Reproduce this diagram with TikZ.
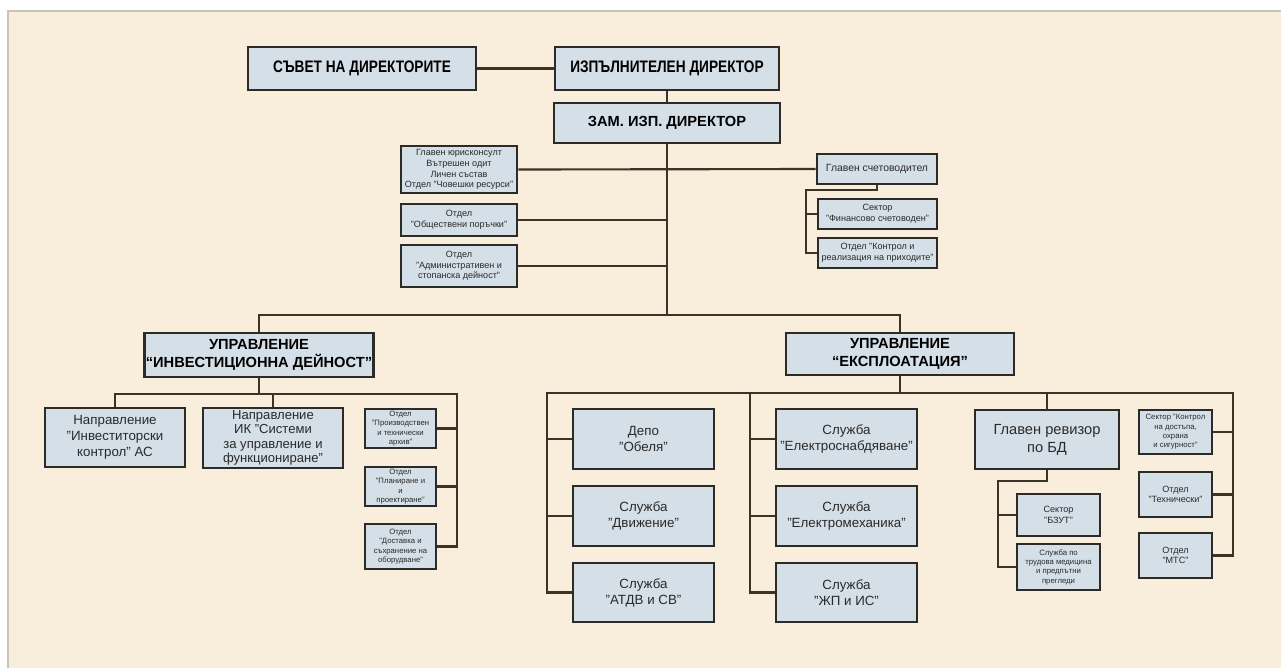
\documentclass[tikz,border=0pt]{standalone}
\usepackage{fontspec}
\setmainfont{Liberation Sans}
\newfontfamily\narrowfont[FakeStretch=0.82]{Liberation Sans}
\definecolor{bg}{HTML}{F8EEDB}
\definecolor{boxfill}{HTML}{D5DFE7}
\definecolor{boxline}{HTML}{2C2B28}
\definecolor{connc}{HTML}{3A3427}
\definecolor{txt}{HTML}{2A2A2A}
\definecolor{framec}{HTML}{C9C5B5}
\tikzset{
  orgbox/.style={draw=boxline, fill=boxfill, line width=1.9pt, inner sep=1pt, align=center, text=txt},
  connector/.style={draw=connc, line width=1.6pt},
  hugebold/.style={font=\narrowfont\bfseries\fontsize{12.5}{14}\selectfont, text=black},
  headbold/.style={font=\bfseries\fontsize{11}{13.5}\selectfont, text=black},
  midtext/.style={font=\fontsize{10}{12}\selectfont},
  naptext/.style={font=\fontsize{9.8}{10.8}\selectfont},
  revtext/.style={font=\fontsize{11}{13.5}\selectfont},
  acctext/.style={font=\fontsize{7.8}{9.5}\selectfont},
  smalltext/.style={font=\fontsize{6.8}{8}\selectfont},
  tinytext/.style={font=\fontsize{5.8}{7}\selectfont},
}
\newcommand\orgnode[7][]{%
  \pgfmathsetmacro\obw{(#5-#3)*0.75}%
  \pgfmathsetmacro\obh{(#6-#4)*0.75}%
  \node[orgbox,#1,minimum width=\obw pt,minimum height=\obh pt] (#2) at ({(#3+#5)/2},{(#4+#6)/2}) {#7};}
\begin{document}
\begin{tikzpicture}[x=0.75pt,y=-0.75pt]
\useasboundingbox (0,0) rectangle (1281,668);
\fill[white] (0,0) rectangle (1281,668);
\fill[bg] (8,11) rectangle (1281,668);
\draw[framec, line width=1pt] (8,668) -- (8,11) -- (1281,11);

% top
\orgnode[hugebold]{sovet}{248}{47}{476}{90}{СЪВЕТ НА ДИРЕКТОРИТЕ}
\orgnode[hugebold]{exec}{555}{47}{779}{90}{ИЗПЪЛНИТЕЛЕН ДИРЕКТОР}
\orgnode[headbold]{zam}{554}{103}{780}{143}{ЗАМ. ИЗП. ДИРЕКТОР}

% staff
\orgnode[smalltext]{l1}{401}{146}{517}{193}{Главен юрисконсулт\\Вътрешен одит\\Личен състав\\Отдел "Човешки ресурси"}
\orgnode[smalltext]{l2}{401}{204}{517}{236}{Отдел\\"Обществени поръчки"}
\orgnode[smalltext]{l3}{401}{245}{517}{287}{Отдел\\"Административен и\\стопанска дейност"}
\orgnode[acctext]{acc}{817}{154}{937}{184}{Главен счетоводител}
\orgnode[smalltext]{fin}{818}{199}{937}{229}{Сектор\\"Финансово счетоводен"}
\orgnode[smalltext]{kontr}{818}{238}{937}{268}{Отдел "Контрол и\\реализация на приходите"}

% directorates
\orgnode[headbold]{inv}{145}{333}{373}{377}{УПРАВЛЕНИЕ\\“ИНВЕСТИЦИОННА ДЕЙНОСТ”}
\orgnode[headbold]{expl}{786}{333}{1014}{375}{УПРАВЛЕНИЕ\\“ЕКСПЛОАТАЦИЯ”}

% investment branch
\orgnode[midtext]{nap1}{45}{408}{185}{467}{Направление\\"Инвеститорски\\контрол" АС}
\orgnode[naptext]{nap2}{203}{408}{343}{468}{Направление\\ИК "Системи\\за управление и\\функциониране"}
\orgnode[tinytext]{o1}{365}{409}{436}{448}{Отдел\\"Производствен\\и технически\\архив"}
\orgnode[tinytext]{o2}{365}{467}{436}{506}{Отдел\\"Планиране и\\и\\проектиране"}
\orgnode[tinytext]{o3}{365}{524}{436}{569}{Отдел\\"Доставка и\\съхранение на\\оборудване"}

% exploitation branch
\orgnode[midtext]{depo}{573}{409}{714}{469}{Депо\\"Обеля"}
\orgnode[midtext]{dviz}{573}{486}{714}{546}{Служба\\"Движение"}
\orgnode[midtext]{atdv}{573}{563}{714}{622}{Служба\\"АТДВ и СВ"}
\orgnode[midtext]{elsn}{776}{409}{917}{469}{Служба\\"Електроснабдяване"}
\orgnode[midtext]{elmeh}{776}{486}{917}{546}{Служба\\"Електромеханика"}
\orgnode[midtext]{zp}{776}{563}{917}{622}{Служба\\"ЖП и ИС"}
\orgnode[revtext]{rev}{975}{410}{1119}{469}{Главен ревизор\\по БД}
\orgnode[smalltext]{bzut}{1017}{494}{1100}{536}{Сектор\\"БЗУТ"}
\orgnode[tinytext]{trud}{1017}{544}{1100}{590}{Служба по\\трудова медицина\\и предпътни\\прегледи}
\orgnode[tinytext]{skon}{1139}{410}{1212}{454}{Сектор "Контрол\\на достъпа,\\охрана\\и сигурност"}
\orgnode[smalltext]{tech}{1139}{472}{1212}{517}{Отдел\\"Технически"}
\orgnode[smalltext]{mts}{1139}{533}{1212}{578}{Отдел\\"МТС"}

% junction coordinates
\coordinate (tj) at (667,315);
\coordinate (L1) at (457,394);
\coordinate (R1) at (547,393);
\coordinate (R2) at (1233,393);
\coordinate (R3) at (750,393);
\coordinate (RV) at (998,481);
\coordinate (AC) at (806,190);

% connectors
\draw[connector] (sovet.east) -- (exec.west);
\draw[connector] (exec.south) -- (zam.north);
\draw[connector] (zam.south) -- (tj);
\draw[connector] (l1.east) -- (acc.west);
\draw[connector] (l2.east) -- (l2.east -| tj);
\draw[connector] (l3.east) -- (l3.east -| tj);
\draw[connector] (acc.south) |- (AC) -- (AC |- kontr.west) -- (kontr.west);
\draw[connector] (fin.west) -- (fin.west -| AC);
\draw[connector] (inv.north) |- (tj) -| (expl.north);

\draw[connector] (nap1.north) |- (L1) -- (L1 |- o3.east) -- (o3.east);
\draw[connector] (inv.south) -- (inv.south |- L1);
\draw[connector] (nap2.north) -- (nap2.north |- L1);
\draw[connector] (o1.east) -- (o1.east -| L1);
\draw[connector] (o2.east) -- (o2.east -| L1);

\draw[connector] (atdv.west) -| (R1) -- (R2) -- (R2 |- mts.east) -- (mts.east);
\draw[connector] (expl.south) -- (expl.south |- R1);
\draw[connector] (depo.west) -- (depo.west -| R1);
\draw[connector] (dviz.west) -- (dviz.west -| R1);
\draw[connector] (zp.west) -| (R3);
\draw[connector] (elsn.west) -- (elsn.west -| R3);
\draw[connector] (elmeh.west) -- (elmeh.west -| R3);
\draw[connector] (rev.north) -- (rev.north |- R1);
\draw[connector] (rev.south) |- (RV) -- (RV |- trud.west) -- (trud.west);
\draw[connector] (bzut.west) -- (bzut.west -| RV);
\draw[connector] (skon.east) -- (skon.east -| R2);
\draw[connector] (tech.east) -- (tech.east -| R2);
\end{tikzpicture}
\end{document}
